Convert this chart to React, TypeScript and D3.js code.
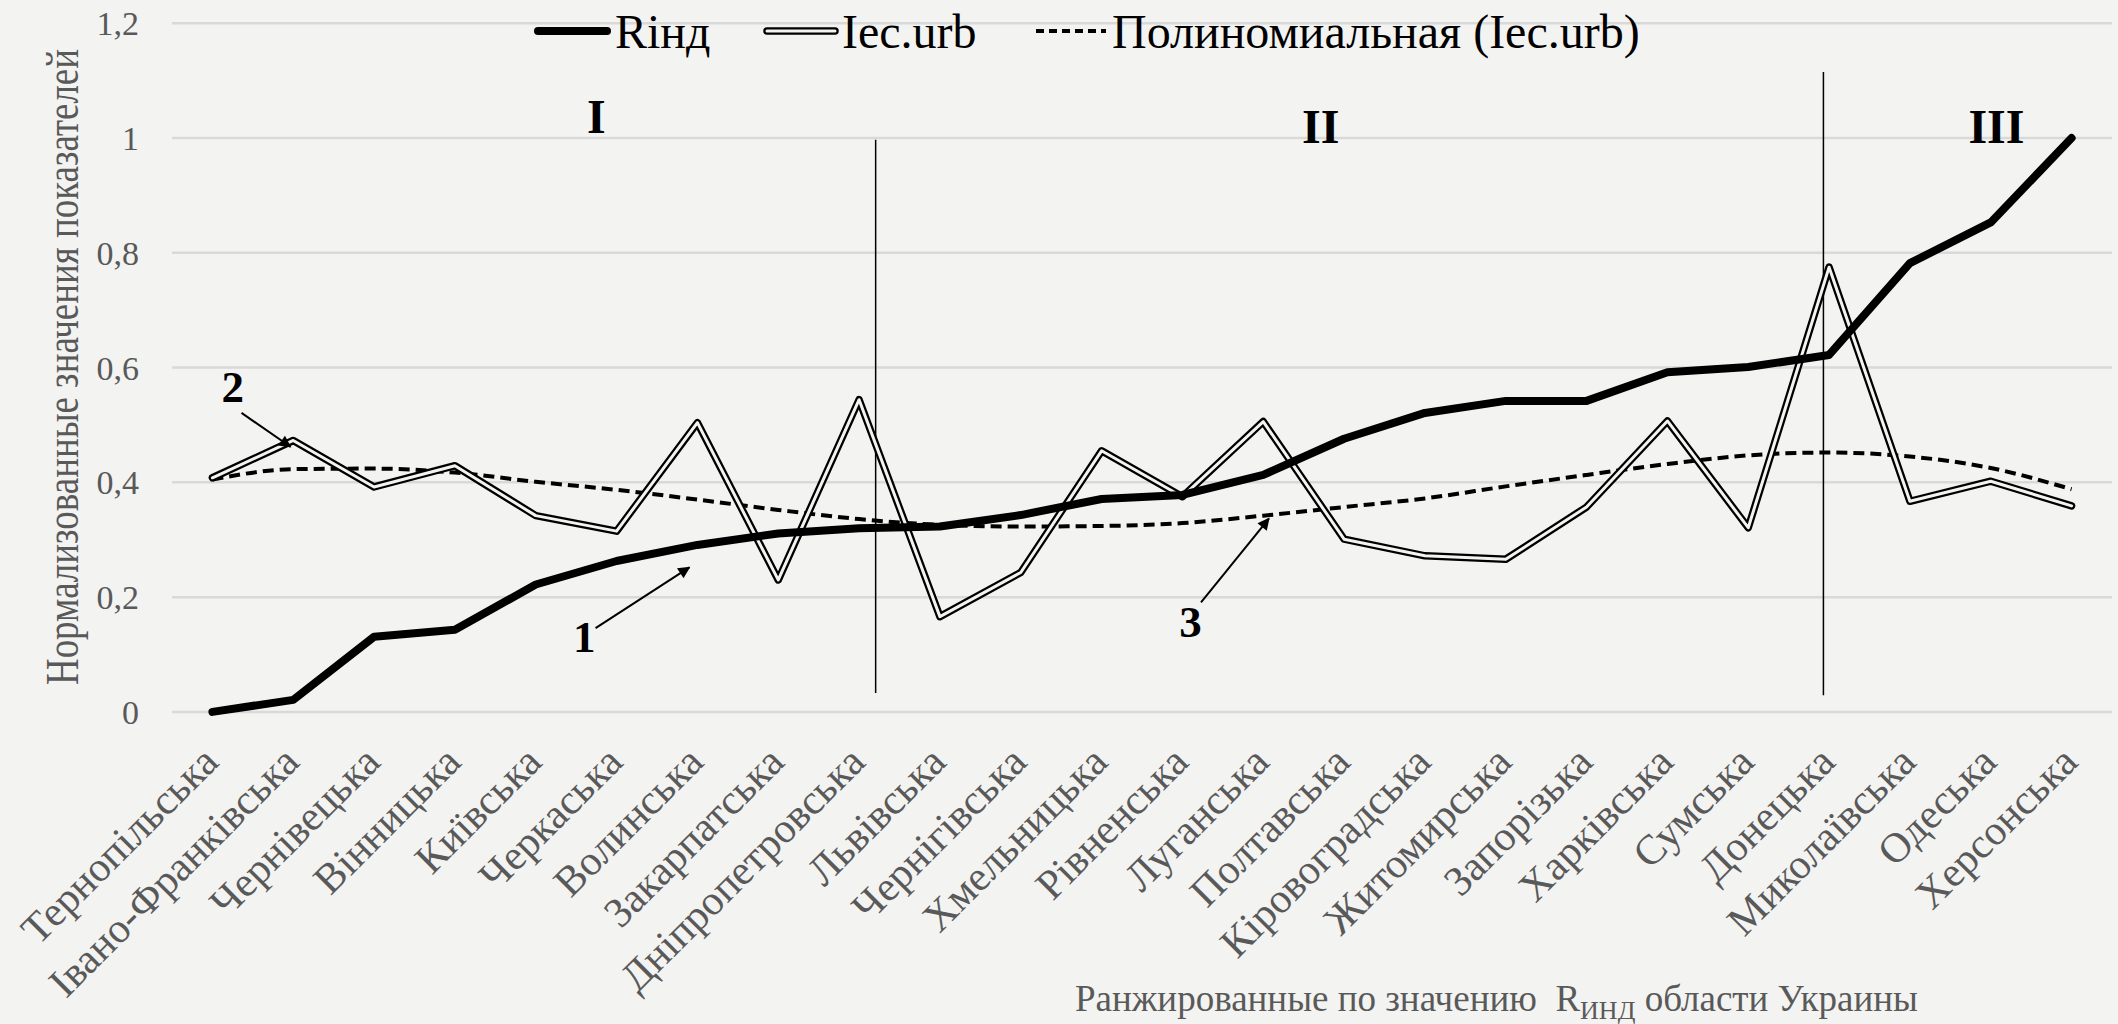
import React from "react";
import * as d3 from "d3";

const categories = [
  "Тернопільська", "Івано-Франківська", "Чернівецька", "Вінницька", "Київська",
  "Черкаська", "Волинська", "Закарпатська", "Дніпропетровська", "Львівська",
  "Чернігівська", "Хмельницька", "Рівненська", "Луганська", "Полтавська",
  "Кіровоградська", "Житомирська", "Запорізька", "Харківська", "Сумська",
  "Донецька", "Миколаївська", "Одеська", "Херсонська",
];
const rInd = [0, 0.021, 0.131, 0.143, 0.222, 0.263, 0.291, 0.311, 0.32, 0.323, 0.343, 0.371, 0.378, 0.413, 0.476, 0.521, 0.542, 0.542, 0.592, 0.601, 0.622, 0.782, 0.853, 1.0];
const iecUrb = [0.408, 0.473, 0.392, 0.429, 0.342, 0.315, 0.504, 0.23, 0.544, 0.166, 0.243, 0.455, 0.375, 0.506, 0.301, 0.272, 0.266, 0.357, 0.507, 0.321, 0.775, 0.367, 0.402, 0.359];
const trend = [0.405, 0.423, 0.424, 0.417, 0.401, 0.387, 0.370, 0.352, 0.336, 0.326, 0.323, 0.324, 0.329, 0.342, 0.357, 0.372, 0.393, 0.413, 0.432, 0.447, 0.452, 0.445, 0.425, 0.388];
const yTicks = [0, 0.2, 0.4, 0.6, 0.8, 1, 1.2];
const yTickLabels = ["0", "0,2", "0,4", "0,6", "0,8", "1", "1,2"];
const legendLabels = ["Rінд", "Iec.urb", "Полиномиальная (Iec.urb)"];
// zone separators: [category position, from value, to value]
const separators = [
  [8.205, 0.033, 0.997],
  [19.93, 0.029, 1.115],
];
// zone labels: [text, category position, value]
const zoneLabels = [
  ["I", 4.75, 1.009],
  ["II", 13.71, 0.991],
  ["III", 22.07, 0.991],
];
// numbered callouts: [text, label pos, label value, arrow from pos, from val, to pos, to val]
const callouts = [
  ["1", 4.6, 0.104, 4.74, 0.146, 5.9, 0.252],
  ["2", 0.25, 0.54, 0.36, 0.521, 0.965, 0.462],
  ["3", 12.1, 0.13, 12.23, 0.191, 13.07, 0.337],
];

const W = 2118, H = 1024;
const BG = "#f3f3f2";
const FONT = '"Liberation Serif", "DejaVu Serif", serif';
const GRAY = "#595959";
const tf = { fontFamily: FONT };

export default function App() {
  const x = d3.scaleLinear().domain([-0.5, categories.length - 0.5]).range([172, 2112]);
  const y = d3.scaleLinear().domain([0, 1.2]).range([711.9, 23.3]);
  const line = d3.line<number>().x((_, i) => x(i)).y((d) => y(d));
  const smooth = d3.line<number>().x((_, i) => x(i)).y((d) => y(d)).curve(d3.curveMonotoneX);

  return (
    <svg width={W} height={H} style={{ position: "absolute", left: 0, top: 0, fontFamily: FONT }}>
      <defs>
        <marker id="arr" viewBox="0 0 10 10" refX="9" refY="5" markerWidth="14" markerHeight="12" markerUnits="userSpaceOnUse" orient="auto">
          <path d="M0,0 L10,5 L0,10 z" fill="#000" />
        </marker>
      </defs>
      <rect x={0} y={0} width={W} height={H} fill={BG} />
      {yTicks.map((t, i) => (
        <g key={i}>
          <line x1={x.range()[0]} x2={x.range()[1]} y1={y(t)} y2={y(t)} stroke="#d9d9d9" strokeWidth={2.5} />
          <text x={139} y={y(t)} dy="0.35em" textAnchor="end" fontSize={34} fill={GRAY} style={tf}>{yTickLabels[i]}</text>
        </g>
      ))}
      {separators.map((s, i) => (
        <line key={i} x1={x(s[0])} x2={x(s[0])} y1={y(s[1])} y2={y(s[2])} stroke="#000" strokeWidth={1.5} />
      ))}
      <path d={smooth(trend) || ""} fill="none" stroke="#000" strokeWidth={4} strokeDasharray="11,6" />
      <path d={line(iecUrb) || ""} fill="none" stroke="#000" strokeWidth={7.5} strokeLinejoin="round" strokeLinecap="round" />
      <path d={line(iecUrb) || ""} fill="none" stroke={BG} strokeWidth={3} strokeLinejoin="round" strokeLinecap="round" />
      <path d={line(rInd) || ""} fill="none" stroke="#000" strokeWidth={8} strokeLinejoin="round" strokeLinecap="round" />
      {categories.map((c, i) => (
        <text key={c} transform={`translate(${x(i) + 8},${764}) rotate(-45)`} textAnchor="end" fontSize={42} fill={GRAY} style={tf}>{c}</text>
      ))}
      <text transform="translate(78,367) rotate(-90) scale(0.8,1)" textAnchor="middle" fontSize={46} fill={GRAY} textLength={795} lengthAdjust="spacingAndGlyphs" style={tf}>Нормализованные значения показателей</text>
      <text x={1075} y={1011} fontSize={37} fill={GRAY} style={tf}>
        Ранжированные по значению{"\u00a0\u00a0"}R<tspan fontSize={26} dy={8}>ИНД</tspan><tspan dy={-8}> области Украины</tspan>
      </text>
      {/* legend */}
      <line x1={538} x2={607} y1={31} y2={31} stroke="#000" strokeWidth={8} strokeLinecap="round" />
      <text x={615} y={48} fontSize={48} fill="#000" style={tf}>{legendLabels[0]}</text>
      <line x1={767} x2={835} y1={31} y2={31} stroke="#000" strokeWidth={7.5} strokeLinecap="round" />
      <line x1={767} x2={835} y1={31} y2={31} stroke={BG} strokeWidth={3} strokeLinecap="round" />
      <text x={842} y={48} fontSize={48} fill="#000" style={tf}>{legendLabels[1]}</text>
      <line x1={1036} x2={1106} y1={31} y2={31} stroke="#000" strokeWidth={4} strokeDasharray="8,5" />
      <text x={1112} y={48} fontSize={48} fill="#000" style={tf}>{legendLabels[2]}</text>
      {zoneLabels.map((z, i) => (
        <text key={i} x={x(z[1] as number)} y={y(z[2] as number)} textAnchor="middle" fontSize={48} fontWeight="bold" fill="#000" style={tf}>{z[0]}</text>
      ))}
      {callouts.map((c, i) => (
        <g key={i}>
          <text x={x(c[1] as number)} y={y(c[2] as number)} textAnchor="middle" fontSize={45} fontWeight="bold" fill="#000" style={tf}>{c[0]}</text>
          <line x1={x(c[3] as number)} y1={y(c[4] as number)} x2={x(c[5] as number)} y2={y(c[6] as number)} stroke="#000" strokeWidth={2} markerEnd="url(#arr)" />
        </g>
      ))}
    </svg>
  );
}
